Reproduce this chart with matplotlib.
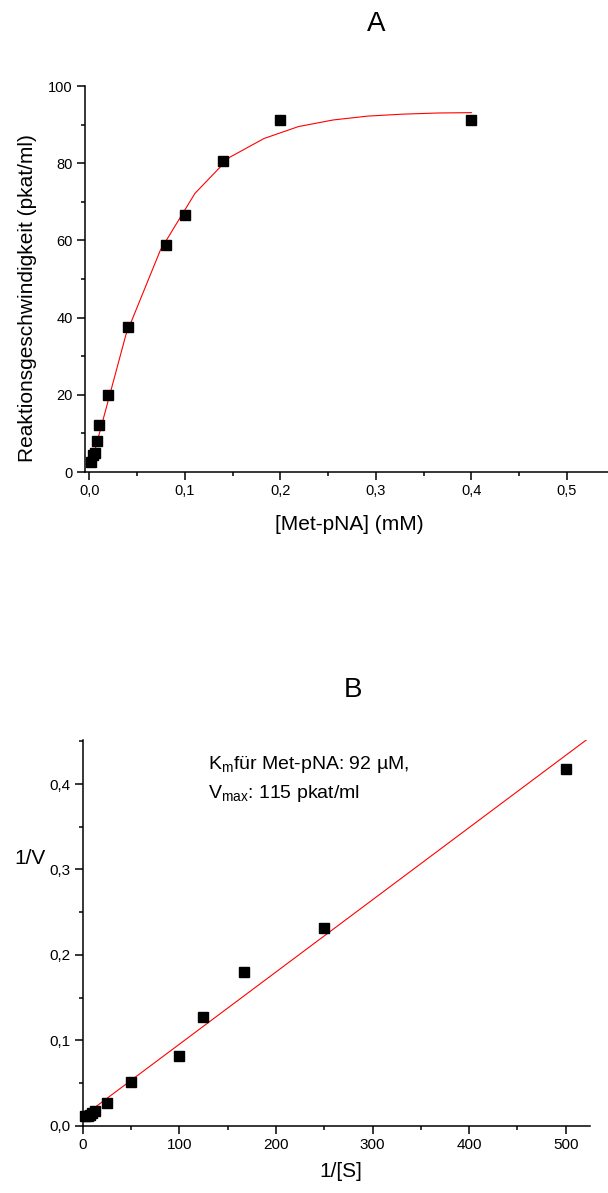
import numpy as np
import matplotlib
matplotlib.use("Agg")
import matplotlib.pyplot as plt
from matplotlib.ticker import MultipleLocator, FuncFormatter

plt.rcParams['font.family'] = ['Liberation Sans', 'DejaVu Sans']
plt.rcParams['mathtext.fontset'] = 'custom'
plt.rcParams['mathtext.rm'] = 'Liberation Sans'
plt.rcParams['mathtext.it'] = 'Liberation Sans'

# substrate concentration (mM) and measured rate (pkat/ml)
conc = [0.002, 0.004, 0.006, 0.008, 0.01, 0.02, 0.04, 0.08, 0.1, 0.14, 0.2, 0.4]
rate = [2.5, 4.3, 5.0, 8.0, 12.3, 19.9, 37.5, 58.8, 66.5, 80.6, 91.3, 91.2]

# fitted saturation curve
fit_conc = [0.002, 0.0382, 0.0744, 0.1106, 0.1467, 0.1829, 0.2191, 0.2553, 0.2915, 0.3276, 0.3638, 0.4]
fit_rate = [2.2, 35.5, 57.5, 72.2, 81.5, 86.4, 89.5, 91.2, 92.2, 92.7, 93.0, 93.1]

# Lineweaver-Burk: 1/[S] vs 1/V
inv_s = [500, 250, 166.7, 125, 100, 50, 25, 12.5, 10, 7.14, 5, 2.5]
inv_v = [0.4177, 0.231, 0.1796, 0.1276, 0.082, 0.0515, 0.0269, 0.0170, 0.0150, 0.0124, 0.0110, 0.0110]

# linear regression line
lin_x = [0.5, 525]
lin_y = [0.0112, 0.4548]

km_text = r'K$_{\mathrm{m}}$für Met-pNA: 92 µM,'
vmax_text = r'V$_{\mathrm{max}}$: 115 pkat/ml'

W, H = 608, 1193
fig = plt.figure(figsize=(W / 100, H / 100), dpi=100)


def style_axes(ax, labelsize):
    ax.spines['top'].set_visible(False)
    ax.spines['right'].set_visible(False)
    for s in ('left', 'bottom'):
        ax.spines[s].set_linewidth(1.1)
    ax.tick_params(which='major', direction='out', length=5.5, width=1.1,
                   labelsize=labelsize, pad=3)
    ax.tick_params(which='minor', direction='out', length=3, width=1.1)


def comma1(v, pos):
    return f'{v:.1f}'.replace('.', ',')


# --- A: rate vs concentration ---
ax1 = fig.add_axes([84.6 / W, 1 - 472 / H, 530 / W, 386 / H])
ax1.plot(fit_conc, fit_rate, color='red', lw=0.8, zorder=2)
ax1.plot(conc, rate, 's', color='black', ms=6.5, zorder=3, clip_on=False)
ax1.set_xlim(-0.005, 0.55)
ax1.set_ylim(0, 100)
ax1.xaxis.set_major_locator(MultipleLocator(0.1))
ax1.xaxis.set_minor_locator(MultipleLocator(0.05))
ax1.yaxis.set_major_locator(MultipleLocator(20))
ax1.yaxis.set_minor_locator(MultipleLocator(10))
ax1.xaxis.set_major_formatter(FuncFormatter(comma1))
style_axes(ax1, 10.5)
ax1.set_xlabel('[Met-pNA] (mM)', fontsize=15, va='center')
ax1.xaxis.set_label_coords(0.499, -0.135)
ax1.set_ylabel('Reaktionsgeschwindigkeit (pkat/ml)', fontsize=15, va='center')
ax1.yaxis.set_label_coords(-0.107, 0.45)
fig.text(375.7 / W, 1 - 24 / H, 'A', fontsize=20, ha='center', va='center')

# --- B: double reciprocal plot ---
ax2 = fig.add_axes([82.7 / W, 1 - 1125.7 / H, 507.2 / W, 385.7 / H])
ax2.plot(lin_x, lin_y, color='red', lw=0.8, zorder=2)
ax2.plot(inv_s, inv_v, 's', color='black', ms=6.5, zorder=3, clip_on=False)
ax2.set_xlim(0, 525)
ax2.set_ylim(0, 0.4516)
ax2.xaxis.set_major_locator(MultipleLocator(100))
ax2.xaxis.set_minor_locator(MultipleLocator(50))
ax2.yaxis.set_major_locator(MultipleLocator(0.1))
ax2.yaxis.set_minor_locator(MultipleLocator(0.05))
ax2.yaxis.set_major_formatter(FuncFormatter(comma1))
style_axes(ax2, 11)
ax2.set_xlabel('1/[S]', fontsize=15, va='center')
ax2.xaxis.set_label_coords(0.509, -0.12)
ax2.set_ylabel('1/V', fontsize=15, rotation=0, ha='center', va='center')
ax2.yaxis.set_label_coords(-0.104, 0.694)
ax2.text(0.247, 0.925, km_text, transform=ax2.transAxes, fontsize=14, va='baseline')
ax2.text(0.247, 0.850, vmax_text, transform=ax2.transAxes, fontsize=14, va='baseline')
fig.text(353 / W, 1 - 690 / H, 'B', fontsize=20, ha='center', va='center')

fig.savefig('out.png', dpi=100)
